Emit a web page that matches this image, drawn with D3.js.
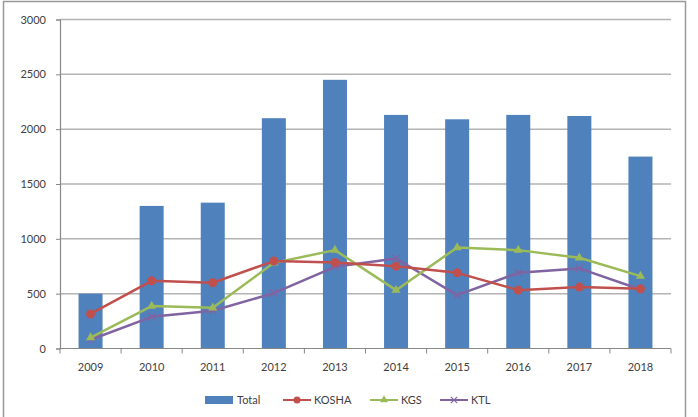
<!DOCTYPE html>
<html>
<head>
<meta charset="utf-8">
<script src="https://cdn.jsdelivr.net/npm/d3@7"></script>
<style>
  body { margin: 0; background: #fff; }
  text { font-family: Lato, "Open Sans", sans-serif; fill: #404040; }
</style>
</head>
<body>
<div id="chart"></div>
<script>
// values
let years = ["2009", "2010", "2011", "2012", "2013", "2014", "2015", "2016", "2017", "2018"];
let total = [500, 1300, 1330, 2100, 2450, 2130, 2090, 2130, 2120, 1750];
let kosha = [315, 617, 600, 797, 784, 751, 690, 532, 560, 544];
let kgs = [100, 387, 371, 781, 897, 532, 921, 897, 827, 660];
let ktl = [80, 289, 344, 505, 745, 821, 487, 690, 730, 538];
let yTicks = [0, 500, 1000, 1500, 2000, 2500, 3000];

let width = 698, height = 417;
let margin = { top: 19.5, left: 60, right: 27, bottom: 68.5 };

let svg = d3.select("#chart")
  .append("svg")
  .attr("width", width)
  .attr("height", height);

// outer chart border
svg.append("rect")
  .attr("x", 3.5).attr("y", 1.5)
  .attr("width", 682).attr("height", 420)
  .attr("fill", "none")
  .attr("stroke", "#999")
  .attr("stroke-width", 1.5);

let xOuter = d3.scaleBand()
  .domain(years)
  .range([margin.left, width - margin.right]);

let y = d3.scaleLinear()
  .domain([0, 3000])
  .range([height - margin.bottom, margin.top]);

// gridlines
svg.append("g")
  .selectAll("line")
  .data(yTicks.slice(1))
  .enter()
    .append("line")
      .attr("x1", margin.left)
      .attr("x2", width - margin.right)
      .attr("y1", d => y(d))
      .attr("y2", d => y(d))
      .attr("stroke", "#b3b3b3")
      .attr("stroke-width", 1.5);

// bars
svg.append("g")
  .selectAll("rect")
  .data(total)
  .enter()
    .append("rect")
      .attr("x", (d, i) => xOuter(years[i]) + (xOuter.bandwidth() - 24) / 2)
      .attr("width", 24)
      .attr("y", d => y(d))
      .attr("height", d => y(0) - y(d))
      .attr("fill", "#4f81bd");

// y axis
let yAxis = d3.axisLeft(y).tickValues(yTicks).tickFormat(d3.format("d")).tickSize(4).tickPadding(10);
let gy = svg.append("g")
  .attr("transform", `translate(${margin.left},0)`)
  .call(yAxis);
gy.select(".domain").attr("stroke", "#888").attr("stroke-width", 1.2);
gy.selectAll(".tick line").attr("stroke", "#888");
gy.selectAll("text").style("font-size", "11px");

// x axis with ticks at category boundaries
let gx = svg.append("g")
  .attr("transform", `translate(0,${y(0)})`);
gx.append("line")
  .attr("x1", margin.left).attr("x2", width - margin.right)
  .attr("stroke", "#888").attr("stroke-width", 1.2);
gx.selectAll(".bound")
  .data(years.concat(["end"]))
  .enter()
    .append("line")
      .attr("x1", (d, i) => margin.left + i * xOuter.bandwidth())
      .attr("x2", (d, i) => margin.left + i * xOuter.bandwidth())
      .attr("y1", 0).attr("y2", 5)
      .attr("stroke", "#888");
gx.selectAll("text")
  .data(years)
  .enter()
    .append("text")
      .attr("x", d => xOuter(d) + xOuter.bandwidth() / 2)
      .attr("y", 22)
      .attr("text-anchor", "middle")
      .style("font-size", "11px")
      .text(d => d);

let cx = (d, i) => xOuter(years[i]) + xOuter.bandwidth() / 2;

let series = [
  { name: "KOSHA", values: kosha, color: "#c0504d", marker: "square" },
  { name: "KGS", values: kgs, color: "#9bbb59", marker: "triangle" },
  { name: "KTL", values: ktl, color: "#8064a2", marker: "cross" }
];

let line = d3.line()
  .x(cx)
  .y(d => y(d));

function drawMarker(g, type, color, px, py, s) {
  if (type === "square") {
    g.append("circle")
      .attr("cx", px).attr("cy", py).attr("r", s)
      .attr("fill", color);
  } else if (type === "triangle") {
    g.append("path")
      .attr("transform", `translate(${px},${py})`)
      .attr("d", d3.symbol().type(d3.symbolTriangle).size(s * 8)())
      .attr("fill", color);
  } else {
    g.append("path")
      .attr("transform", `translate(${px},${py})`)
      .attr("d", d3.symbol().type(d3.symbolX).size(s * 8)())
      .attr("stroke", color)
      .attr("stroke-width", 1.2)
      .attr("fill", "none");
  }
}

// draw in reverse so KOSHA sits on top
series.slice().reverse().forEach(s => {
  let g = svg.append("g");
  g.append("path")
    .datum(s.values)
    .attr("d", line)
    .attr("fill", "none")
    .attr("stroke", s.color)
    .attr("stroke-width", 2.5)
    .attr("stroke-linejoin", "round");
  s.values.forEach((v, i) => {
    drawMarker(g, s.marker, s.color, cx(v, i), y(v), 4.5);
  });
});

// legend
let legend = svg.append("g").attr("transform", "translate(0,400)");
legend.append("rect")
  .attr("x", 205).attr("y", -4)
  .attr("width", 28).attr("height", 8)
  .attr("fill", "#4f81bd");
legend.append("text")
  .attr("x", 237).attr("y", 4)
  .style("font-size", "11px")
  .text("Total");

let legendX = [283, 370, 440];
series.forEach((s, i) => {
  let lg = legend.append("g");
  lg.append("line")
    .attr("x1", legendX[i]).attr("x2", legendX[i] + 28)
    .attr("stroke", s.color).attr("stroke-width", 2);
  drawMarker(lg, s.marker, s.color, legendX[i] + 14, 0, 3.5);
  lg.append("text")
    .attr("x", legendX[i] + 31).attr("y", 4)
    .style("font-size", "11px")
    .text(s.name);
});
</script>
</body>
</html>
